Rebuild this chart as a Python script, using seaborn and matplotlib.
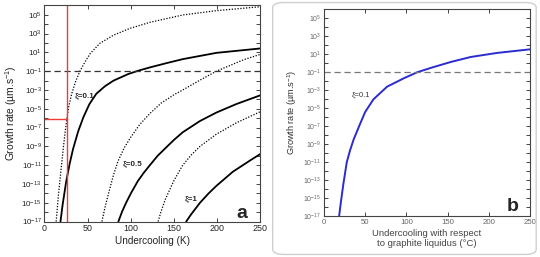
import numpy as np
import pandas as pd
import matplotlib
matplotlib.use("Agg")
import matplotlib.pyplot as plt
import seaborn as sns
from matplotlib.patches import FancyBboxPatch
from matplotlib.ticker import FixedLocator, FixedFormatter, NullLocator

# ---------------- data (growth rates given as log10 of µm/s) ----------------
# Panel a : dotted / solid pairs for xi = 0.1, 0.5, 1
d01_x = [13.5, 16, 19, 22, 24, 26, 28, 31.5, 36, 41, 47, 52.7, 64, 80, 99, 122, 160, 199, 250]
d01_log = [-17, -14.3, -11.6, -9.0, -7.4, -6.0, -4.8, -3.4, -2.1, -1.0, 0.0, 0.85, 1.96, 2.84, 3.56, 4.2, 4.98, 5.44, 5.86]

s01_x = [18.5, 21, 25, 29, 33, 39, 45, 52, 60, 70, 80, 97, 108.5, 122, 140, 160, 199, 250]
s01_log = [-17, -15.2, -12.8, -10.9, -9.3, -7.4, -5.9, -4.5, -3.4, -2.6, -2.0, -1.3, -0.95, -0.6, -0.17, 0.28, 0.95, 1.42]

d05_x = [66.5, 70, 75, 80, 85, 92, 100, 110, 122, 135, 150, 160, 180, 199, 230, 250]
d05_log = [-17, -15.5, -13.7, -12.0, -10.6, -9.2, -8.0, -6.7, -5.5, -4.4, -3.5, -3.0, -1.95, -1.0, 0.2, 0.8]

s05_x = [85.5, 90, 95, 100, 108, 115, 122, 131, 141, 150, 160, 170, 180, 199, 222, 250]
s05_log = [-17, -15.9, -14.9, -14.0, -12.7, -11.8, -11.0, -10.0, -9.1, -8.3, -7.5, -6.9, -6.3, -5.4, -4.5, -3.56]

d1_x = [131.5, 135, 140, 150, 160, 170, 180, 199, 222, 250]
d1_log = [-17, -15.9, -14.6, -12.6, -11.0, -9.9, -9.0, -7.7, -6.5, -5.3]

s1_x = [164, 170, 180, 190, 199, 218, 238, 250]
s1_log = [-17, -16.2, -15.0, -14.0, -13.2, -11.7, -10.5, -9.8]

# Panel b : single curve xi = 0.1
b_x = [18.3, 20.5, 23.5, 27.6, 31.5, 35.8, 43.9, 50, 60, 76.5, 96.7, 113, 130, 154, 178, 210, 250]
b_log = [-17, -15.4, -13.4, -11.0, -9.7, -8.5, -6.7, -5.4, -4.0, -2.6, -1.67, -1.0, -0.5, 0.15, 0.7, 1.15, 1.55]

threshold = 1e-1
red_dT = 25.7
red_rate = 9e-7

x_ticks = [0, 50, 100, 150, 200, 250]
y_exps = list(range(-17, 6))

# ---------------- style ----------------
sns.set_theme(style="ticks")
plt.rcParams["font.family"] = ["Liberation Sans", "DejaVu Sans"]
plt.rcParams["mathtext.default"] = "regular"

fig = plt.figure(figsize=(5.40, 2.57), dpi=100)
axa = fig.add_axes([0.0824, 0.138, 0.400, 0.841])
axb = fig.add_axes([0.600, 0.158, 0.3815, 0.806])

# light rounded frame around panel b
fig.patches.append(FancyBboxPatch((0.505, 0.01), 0.488, 0.98, boxstyle="round,pad=0,rounding_size=0.02",
                                  transform=fig.transFigure, fill=False, edgecolor="#cfcfcf", lw=1.0))

rows = []
for name, kind, xs, ls in [("0.1d", "dotted", d01_x, d01_log), ("0.1s", "solid", s01_x, s01_log),
                           ("0.5d", "dotted", d05_x, d05_log), ("0.5s", "solid", s05_x, s05_log),
                           ("1d", "dotted", d1_x, d1_log), ("1s", "solid", s1_x, s1_log)]:
    for x, l in zip(xs, ls):
        rows.append({"dT": x, "rate": 10.0 ** l, "curve": name, "kind": kind})
dfa = pd.DataFrame(rows)

for name, g in dfa.groupby("curve", sort=False):
    kind = g["kind"].iloc[0]
    sns.lineplot(data=g, x="dT", y="rate", ax=axa, color="black", estimator=None, sort=True,
                 lw=1.3 if kind == "solid" else 0.9,
                 linestyle=(0, (1, 1.3)) if kind == "dotted" else "-", legend=False)

dfb = pd.DataFrame({"dT": b_x, "rate": [10.0 ** l for l in b_log]})
sns.lineplot(data=dfb, x="dT", y="rate", ax=axb, color="#2b2bd0", lw=1.4, estimator=None, legend=False)

# threshold lines
axa.axhline(threshold, color="#333333", lw=0.9, ls=(0, (5, 3)))
axb.axhline(threshold, color="#777777", lw=0.9, ls=(0, (5, 3)))

# red guide lines in panel a
axa.axvline(red_dT, color="#f03a32", lw=1.0)
axa.plot([0, red_dT], [red_rate, red_rate], color="#f03a32", lw=1.0)

for ax, lab_col, tfs in [(axa, "#222222", 5.8), (axb, "#666666", 5.0)]:
    ax.set_yscale("log")
    ax.set_xlim(0, 250)
    ax.set_ylim(1e-17, 1e6)
    ax.xaxis.set_major_locator(FixedLocator(x_ticks))
    ax.xaxis.set_minor_locator(NullLocator())
    ax.yaxis.set_major_locator(FixedLocator([10.0 ** e for e in y_exps]))
    ax.yaxis.set_major_formatter(FixedFormatter(
        [r"$10^{%d}$" % e if (e % 2) else "" for e in y_exps]))
    ax.yaxis.set_minor_locator(NullLocator())
    ax.tick_params(direction="in", top=True, right=True, length=3, width=0.6,
                   labelsize=tfs, labelcolor=lab_col, pad=2)
    ax.tick_params(axis="x", labelsize=tfs + 0.6)
    for s in ax.spines.values():
        s.set_linewidth(0.8)
        s.set_color("#444444")

axa.set_xlabel("Undercooling (K)", fontsize=7.2, labelpad=2, color="#222222")
axa.set_ylabel(r"Growth rate (µm.s$^{-1}$)", fontsize=7.4, labelpad=2, color="#222222")
axb.set_xlabel("Undercooling with respect\nto graphite liquidus (°C)", fontsize=6.8, labelpad=2,
               color="#444444", linespacing=1.1)
axb.set_ylabel(r"Growth rate (µm.s$^{-1}$)", fontsize=6.6, labelpad=3, color="#333333")

# annotations
axa.text(35, 10 ** -3.56, "ξ=0.1", fontsize=5.8, fontweight="bold", va="center")
axa.text(91, 10 ** -10.8, "ξ=0.5", fontsize=5.8, fontweight="bold", va="center")
axa.text(162.5, 10 ** -14.6, "ξ=1", fontsize=5.8, fontweight="bold", va="center")
axa.text(228.6, 10 ** -16.1, "a", fontsize=14, fontweight="bold", ha="center", va="center")
axb.text(34, 10 ** -3.5, "ξ=0.1", fontsize=5.5, color="#333333", va="center")
axb.text(229, 10 ** -15.9, "b", fontsize=14, fontweight="bold", ha="center", va="center")

fig.savefig("out.png", dpi=100)
